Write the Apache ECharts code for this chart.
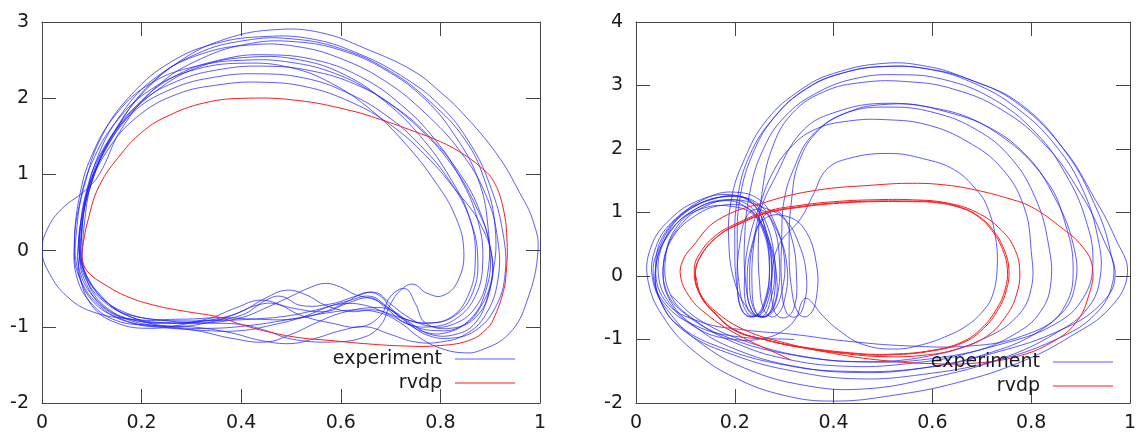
<!DOCTYPE html>
<html>
<head>
<meta charset="utf-8">
<script src="https://cdn.jsdelivr.net/npm/echarts@6/dist/echarts.min.js"></script>
<style>
html,body{margin:0;padding:0;background:#fff;}
#chart{width:1139px;height:434px;}
</style>
</head>
<body>
<div id="chart"></div>
<script>
// ---------- data ----------
const seriesNames = ['experiment', 'rvdp'];
const xTicks = [0, 0.2, 0.4, 0.6, 0.8, 1];
const leftYTicks = [-2, -1, 0, 1, 2, 3];
const rightYTicks = [-2, -1, 0, 1, 2, 3, 4];

// left panel, experiment: successive loops of the trajectory (x, dx/dt)
const leftExperimentLoops = [
  [[0.08,-0.15],[0.085,0.35],[0.1,0.9],[0.14,1.5],[0.2,2.05],[0.28,2.5],[0.37,2.78],[0.47,2.9],[0.56,2.86],[0.65,2.65],[0.745,2.36],[0.8,2.08],[0.845,1.8],[0.913,1.27],[0.96,0.75],[0.986,0.39],[0.996,0.0],[0.974,-0.66],[0.938,-1.09],[0.88,-1.31],[0.843,-1.34],[0.8,-1.28],[0.76,-1.15],[0.72,-0.95],[0.68,-0.82],[0.63,-0.78],[0.57,-0.82],[0.5,-0.9],[0.42,-0.98],[0.34,-1.02],[0.26,-1.0],[0.19,-0.9],[0.13,-0.68]],
  [[0.1,-0.45],[0.075,-0.05],[0.08,0.45],[0.1,0.95],[0.15,1.6],[0.22,2.2],[0.31,2.58],[0.41,2.76],[0.5,2.78],[0.6,2.65],[0.7,2.35],[0.78,1.95],[0.85,1.45],[0.89,0.9],[0.91,0.3],[0.905,-0.3],[0.88,-0.75],[0.84,-1.0],[0.79,-1.05],[0.74,-0.98],[0.7,-0.85],[0.65,-0.72],[0.6,-0.7],[0.55,-0.78],[0.49,-0.86],[0.42,-0.9],[0.34,-0.92],[0.26,-0.92],[0.18,-0.9],[0.1,-0.8],[0.05,-0.6],[0.015,-0.3],[0.0,0.0],[0.012,0.3],[0.04,0.55],[0.085,0.78],[0.115,1.0]],
  [[0.16,1.6],[0.23,2.15],[0.32,2.52],[0.42,2.72],[0.51,2.74],[0.6,2.63],[0.69,2.37],[0.77,1.98],[0.83,1.5],[0.875,0.95],[0.895,0.35],[0.895,-0.3],[0.87,-0.75],[0.82,-0.98],[0.77,-0.98],[0.73,-0.85],[0.7,-0.7],[0.67,-0.55],[0.63,-0.6],[0.58,-0.7],[0.52,-0.72],[0.48,-0.6],[0.45,-0.65],[0.4,-0.85],[0.33,-0.92],[0.25,-0.95],[0.17,-0.85],[0.12,-0.6],[0.085,-0.25]],
  [[0.08,0.25],[0.095,0.8],[0.13,1.35],[0.19,1.9],[0.27,2.3],[0.37,2.52],[0.45,2.57],[0.55,2.5],[0.64,2.28],[0.72,1.92],[0.79,1.45],[0.84,0.95],[0.875,0.4],[0.885,-0.15],[0.87,-0.6],[0.83,-0.9],[0.78,-1.0],[0.73,-0.95],[0.69,-0.75],[0.66,-0.62],[0.61,-0.7],[0.57,-0.8],[0.5,-0.75],[0.44,-0.65],[0.39,-0.75],[0.33,-0.9],[0.26,-0.95],[0.19,-0.92],[0.13,-0.75],[0.09,-0.4]],
  [[0.075,0.0],[0.085,0.6],[0.11,1.1],[0.16,1.65],[0.23,2.1],[0.32,2.42],[0.42,2.54],[0.52,2.5],[0.61,2.3],[0.69,1.95],[0.76,1.5],[0.82,0.95],[0.86,0.4],[0.87,-0.15],[0.855,-0.6],[0.82,-0.88],[0.77,-0.95],[0.72,-0.88],[0.67,-0.78],[0.62,-0.8],[0.57,-0.72],[0.53,-0.58],[0.49,-0.52],[0.45,-0.62],[0.4,-0.8],[0.33,-0.95],[0.25,-1.0],[0.18,-0.95],[0.12,-0.75],[0.075,-0.35]],
  [[0.065,0.05],[0.075,0.6],[0.1,1.15],[0.15,1.7],[0.22,2.12],[0.31,2.38],[0.41,2.46],[0.5,2.4],[0.58,2.2],[0.66,1.85],[0.73,1.4],[0.79,0.9],[0.83,0.45],[0.847,0.0],[0.835,-0.4],[0.805,-0.59],[0.773,-0.56],[0.745,-0.44],[0.72,-0.52],[0.7,-0.7],[0.68,-0.98],[0.645,-1.14],[0.58,-1.2],[0.5,-1.16],[0.45,-1.05],[0.4,-0.97],[0.33,-0.95],[0.25,-0.92],[0.17,-0.82],[0.11,-0.55],[0.08,-0.15]],
  [[0.08,0.3],[0.095,0.85],[0.13,1.4],[0.19,1.9],[0.27,2.22],[0.36,2.38],[0.45,2.42],[0.54,2.36],[0.63,2.18],[0.71,1.88],[0.78,1.48],[0.84,1.0],[0.88,0.5],[0.9,-0.05],[0.89,-0.55],[0.86,-0.9],[0.81,-1.08],[0.76,-1.05],[0.72,-0.88],[0.69,-0.72],[0.66,-0.6],[0.62,-0.65],[0.57,-0.75],[0.52,-0.88],[0.46,-0.98],[0.4,-1.05],[0.33,-1.05],[0.25,-1.0],[0.17,-0.9],[0.11,-0.65],[0.075,-0.25]],
  [[0.075,0.2],[0.09,0.8],[0.12,1.3],[0.18,1.8],[0.26,2.12],[0.35,2.28],[0.44,2.32],[0.53,2.26],[0.61,2.08],[0.69,1.78],[0.76,1.38],[0.82,0.9],[0.86,0.4],[0.875,-0.1],[0.865,-0.55],[0.83,-0.85],[0.78,-0.95],[0.73,-0.9],[0.7,-0.75],[0.68,-0.6],[0.65,-0.55],[0.61,-0.68],[0.56,-0.82],[0.5,-0.9],[0.43,-0.9],[0.36,-0.88],[0.28,-0.9],[0.2,-0.88],[0.13,-0.7],[0.085,-0.3]],
  [[0.08,0.25],[0.095,0.8],[0.13,1.3],[0.19,1.75],[0.27,2.05],[0.36,2.18],[0.44,2.21],[0.53,2.15],[0.62,1.95],[0.7,1.65],[0.77,1.25],[0.83,0.8],[0.88,0.35],[0.905,-0.15],[0.895,-0.6],[0.87,-0.95],[0.83,-1.1],[0.78,-1.1],[0.74,-0.95],[0.7,-0.78],[0.66,-0.75],[0.6,-0.82],[0.55,-0.95],[0.5,-1.1],[0.45,-1.2],[0.38,-1.15],[0.31,-1.05],[0.23,-1.0],[0.16,-0.9],[0.1,-0.65],[0.07,-0.2]],
  [[0.07,0.3],[0.085,0.85],[0.12,1.5],[0.18,2.05],[0.26,2.48],[0.35,2.72],[0.45,2.81],[0.54,2.78],[0.63,2.6],[0.72,2.3],[0.8,1.9],[0.86,1.4],[0.9,0.85],[0.925,0.25],[0.93,-0.3],[0.91,-0.75],[0.87,-1.05],[0.82,-1.15],[0.77,-1.1],[0.73,-0.92],[0.7,-0.78],[0.67,-0.65],[0.63,-0.58],[0.6,-0.48],[0.57,-0.43],[0.54,-0.48],[0.5,-0.6],[0.45,-0.75],[0.4,-0.88],[0.33,-0.95],[0.26,-0.95],[0.19,-0.92],[0.13,-0.78],[0.09,-0.45]],
  [[0.075,-0.05],[0.085,0.55],[0.11,1.2],[0.16,1.8],[0.23,2.28],[0.32,2.58],[0.42,2.7],[0.51,2.68],[0.6,2.52],[0.69,2.22],[0.77,1.8],[0.84,1.3],[0.89,0.75],[0.915,0.15],[0.915,-0.4],[0.89,-0.85],[0.85,-1.1],[0.8,-1.2],[0.75,-1.2],[0.7,-1.1],[0.65,-1.0],[0.6,-1.05],[0.55,-1.15],[0.5,-1.22],[0.44,-1.18],[0.38,-1.08],[0.3,-1.0],[0.22,-0.98],[0.15,-0.92],[0.1,-0.7],[0.07,-0.35]],
  [[0.065,0.1],[0.075,0.7],[0.1,1.25],[0.15,1.8],[0.22,2.2],[0.31,2.42],[0.41,2.5],[0.5,2.47],[0.59,2.32],[0.67,2.05],[0.75,1.65],[0.82,1.15],[0.87,0.6],[0.9,0.05],[0.9,-0.5],[0.87,-0.88],[0.82,-1.02],[0.77,-0.95],[0.75,-0.7],[0.73,-0.5],[0.7,-0.6],[0.68,-0.85],[0.64,-1.0],[0.58,-0.95],[0.52,-0.85],[0.47,-0.7],[0.43,-0.72],[0.38,-0.85],[0.3,-0.95],[0.22,-1.02],[0.15,-0.95],[0.1,-0.72],[0.075,-0.3],[0.075,0.0]]
];

// left panel, rvdp model limit cycle
const leftRvdp = [[0.08,0.0],[0.092,0.39],[0.115,0.85],[0.159,1.27],[0.2,1.55],[0.247,1.75],[0.327,1.94],[0.414,2.0],[0.514,1.97],[0.612,1.85],[0.68,1.72],[0.745,1.57],[0.8,1.43],[0.845,1.27],[0.88,1.1],[0.906,0.92],[0.926,0.56],[0.934,0.1],[0.932,-0.3],[0.927,-0.52],[0.91,-0.85],[0.894,-1.02],[0.857,-1.18],[0.79,-1.25],[0.72,-1.25],[0.646,-1.22],[0.58,-1.18],[0.514,-1.14],[0.45,-1.06],[0.4,-0.97],[0.353,-0.87],[0.29,-0.8],[0.227,-0.72],[0.17,-0.6],[0.127,-0.45],[0.095,-0.3],[0.082,-0.15],[0.08,0.0]];

// right panel, experiment
const rightExperimentLoops = [
  [[0.32,-1.0],[0.2,-0.95],[0.12,-0.78],[0.06,-0.45],[0.035,0.0],[0.05,0.5],[0.09,0.95],[0.15,1.25],[0.2,1.32],[0.25,1.2],[0.28,0.85],[0.3,0.3],[0.295,-0.25],[0.275,-0.58],[0.25,-0.64],[0.225,-0.5],[0.2,-0.1],[0.188,0.5],[0.193,1.2],[0.219,1.83],[0.265,2.46],[0.333,2.93],[0.4,3.19],[0.504,3.35],[0.59,3.3],[0.663,3.13],[0.763,2.77],[0.863,2.03],[0.93,1.2],[0.97,0.6],[0.995,0.05],[0.96,-0.5],[0.88,-0.95],[0.78,-1.35],[0.65,-1.68],[0.52,-1.88],[0.4,-1.97],[0.3,-1.88],[0.2,-1.6],[0.12,-1.2]],
  [[0.06,-0.7],[0.025,-0.1],[0.03,0.45],[0.07,0.9],[0.13,1.2],[0.19,1.28],[0.235,1.15],[0.26,0.8],[0.275,0.2],[0.265,-0.35],[0.245,-0.62],[0.22,-0.6],[0.205,-0.2],[0.2,0.5],[0.205,1.2],[0.23,1.9],[0.28,2.5],[0.345,2.95],[0.42,3.2],[0.51,3.3],[0.6,3.25],[0.68,3.08],[0.78,2.7],[0.87,1.95],[0.93,1.1],[0.96,0.4],[0.965,-0.1],[0.93,-0.6],[0.85,-1.0],[0.72,-1.35],[0.58,-1.55],[0.45,-1.62],[0.32,-1.5],[0.2,-1.25],[0.1,-0.88]],
  [[0.05,-0.4],[0.04,0.1],[0.06,0.6],[0.11,1.0],[0.17,1.18],[0.22,1.1],[0.255,0.75],[0.27,0.15],[0.26,-0.4],[0.24,-0.63],[0.215,-0.55],[0.205,-0.1],[0.21,0.5],[0.225,0.95],[0.25,1.05],[0.275,0.85],[0.29,0.3],[0.285,-0.35],[0.265,-0.63],[0.245,-0.6],[0.235,-0.2],[0.24,0.6],[0.255,1.1],[0.279,1.51],[0.333,2.25],[0.4,2.57],[0.512,2.72],[0.631,2.58],[0.731,2.25],[0.83,1.51],[0.87,0.8],[0.885,0.1],[0.87,-0.45],[0.82,-0.85],[0.72,-1.2],[0.58,-1.45],[0.45,-1.52],[0.32,-1.42],[0.2,-1.15],[0.12,-0.8]],
  [[0.07,-0.4],[0.055,0.05],[0.07,0.55],[0.12,0.95],[0.18,1.12],[0.23,1.05],[0.26,0.7],[0.28,0.1],[0.27,-0.45],[0.255,-0.64],[0.235,-0.55],[0.222,-0.1],[0.22,0.6],[0.23,1.3],[0.255,1.95],[0.3,2.5],[0.37,2.9],[0.45,3.12],[0.53,3.17],[0.62,3.1],[0.72,2.8],[0.81,2.25],[0.87,1.6],[0.91,0.9],[0.925,0.2],[0.905,-0.35],[0.85,-0.75],[0.75,-1.05],[0.6,-1.3],[0.45,-1.35],[0.3,-1.22],[0.18,-0.95],[0.1,-0.6]],
  [[0.06,-0.2],[0.06,0.35],[0.09,0.8],[0.14,1.1],[0.2,1.2],[0.25,1.1],[0.3,0.9],[0.33,0.5],[0.345,0.0],[0.34,-0.45],[0.325,-0.64],[0.305,-0.58],[0.295,-0.15],[0.295,0.6],[0.3,1.2],[0.32,1.7],[0.355,2.2],[0.42,2.55],[0.5,2.7],[0.6,2.65],[0.7,2.4],[0.79,1.9],[0.85,1.2],[0.885,0.5],[0.89,-0.1],[0.86,-0.6],[0.78,-0.95],[0.68,-1.1],[0.55,-1.1],[0.42,-1.02],[0.32,-0.92],[0.22,-0.85],[0.13,-0.72]],
  [[0.06,-0.4],[0.04,0.2],[0.065,0.75],[0.12,1.1],[0.18,1.25],[0.23,1.2],[0.26,0.9],[0.28,0.3],[0.28,-0.3],[0.265,-0.62],[0.24,-0.55],[0.23,0.0],[0.24,0.6],[0.26,0.9],[0.3,0.95],[0.34,0.75],[0.365,0.2],[0.365,-0.35],[0.35,-0.62],[0.33,-0.6],[0.315,-0.2],[0.31,0.5],[0.315,1.2],[0.33,1.8],[0.37,2.3],[0.43,2.58],[0.51,2.66],[0.6,2.58],[0.69,2.3],[0.76,1.85],[0.81,1.2],[0.835,0.5],[0.84,-0.1],[0.82,-0.55],[0.77,-0.9],[0.68,-1.2],[0.55,-1.38],[0.42,-1.42],[0.3,-1.3],[0.2,-1.05],[0.12,-0.7]],
  [[0.07,-0.3],[0.06,0.3],[0.085,0.8],[0.13,1.05],[0.19,1.1],[0.24,0.95],[0.27,0.55],[0.285,-0.05],[0.28,-0.45],[0.26,-0.64],[0.235,-0.55],[0.225,-0.1],[0.235,0.5],[0.26,0.95],[0.29,1.0],[0.315,0.6],[0.325,0.0],[0.32,-0.5],[0.3,-0.66],[0.28,-0.55],[0.275,0.0],[0.29,0.5],[0.333,0.9],[0.36,1.3],[0.385,1.67],[0.43,1.85],[0.512,1.93],[0.58,1.85],[0.645,1.67],[0.69,1.35],[0.711,1.09],[0.728,0.6],[0.731,0.1],[0.722,-0.3],[0.705,-0.53],[0.67,-0.78],[0.625,-0.96],[0.58,-1.08],[0.526,-1.15],[0.46,-1.08],[0.41,-0.85],[0.375,-0.6],[0.36,-0.45],[0.345,-0.35],[0.335,-0.42],[0.325,-0.65],[0.3,-0.85],[0.26,-0.98],[0.2,-1.0],[0.13,-0.85]],
  [[0.07,-0.45],[0.045,0.05],[0.06,0.6],[0.1,1.0],[0.16,1.22],[0.21,1.25],[0.245,1.05],[0.265,0.6],[0.27,0.0],[0.26,-0.45],[0.245,-0.63],[0.225,-0.58],[0.21,-0.2],[0.205,0.5],[0.21,1.2],[0.235,1.9],[0.28,2.5],[0.345,2.95],[0.42,3.2],[0.5,3.3],[0.59,3.26],[0.68,3.05],[0.77,2.65],[0.85,2.05],[0.905,1.35],[0.935,0.6],[0.94,0.0],[0.915,-0.5],[0.85,-0.9],[0.74,-1.3],[0.6,-1.6],[0.46,-1.78],[0.34,-1.72],[0.22,-1.45],[0.13,-1.05]],
  [[0.07,-0.6],[0.035,-0.1],[0.04,0.45],[0.08,0.9],[0.14,1.18],[0.2,1.25],[0.245,1.15],[0.28,0.8],[0.305,0.2],[0.3,-0.4],[0.28,-0.64],[0.26,-0.55],[0.25,-0.1],[0.248,0.6],[0.255,1.3],[0.275,2.0],[0.315,2.55],[0.38,2.9],[0.46,3.05],[0.55,3.06],[0.64,2.95],[0.74,2.62],[0.83,2.05],[0.9,1.3],[0.945,0.6],[0.97,0.0],[0.94,-0.45],[0.86,-0.85],[0.73,-1.2],[0.58,-1.45],[0.42,-1.5],[0.3,-1.4],[0.18,-1.15],[0.09,-0.8]],
  [[0.05,-0.4],[0.04,0.15],[0.07,0.7],[0.12,1.05],[0.18,1.2],[0.23,1.1],[0.26,0.7],[0.275,0.1],[0.265,-0.45],[0.245,-0.63],[0.225,-0.5],[0.22,0.0],[0.23,0.6],[0.25,1.1],[0.275,1.6],[0.31,2.0],[0.36,2.3],[0.43,2.44],[0.51,2.46],[0.59,2.38],[0.67,2.12],[0.74,1.7],[0.785,1.1],[0.8,0.4],[0.8,-0.2],[0.77,-0.65],[0.7,-1.0],[0.6,-1.25],[0.47,-1.35],[0.35,-1.28],[0.23,-1.05],[0.13,-0.7],[0.07,-0.3]]
];

// right panel, rvdp: transient spiralling onto the limit cycle
const rightRvdp = [[0.313,-1.32],[0.2,-0.9],[0.135,-0.55],[0.106,-0.3],[0.09,0.0],[0.095,0.25],[0.114,0.46],[0.165,0.88],[0.265,1.17],[0.365,1.35],[0.478,1.43],[0.56,1.46],[0.63,1.43],[0.69,1.35],[0.75,1.23],[0.8,1.09],[0.858,0.78],[0.904,0.46],[0.924,0.14],[0.918,-0.27],[0.89,-0.74],[0.838,-1.06],[0.77,-1.27],[0.69,-1.37],[0.6,-1.38],[0.5,-1.33],[0.4,-1.22],[0.3,-1.05],[0.22,-0.85],[0.16,-0.55],[0.128,-0.25],[0.118,0.05],[0.125,0.3],[0.16,0.63],[0.21,0.85],[0.265,1.02],[0.33,1.11],[0.4,1.17],[0.48,1.2],[0.56,1.2],[0.63,1.15],[0.69,1.0],[0.74,0.72],[0.768,0.4],[0.777,0.05],[0.77,-0.3],[0.75,-0.62],[0.71,-0.95],[0.65,-1.15],[0.58,-1.25],[0.5,-1.27],[0.42,-1.22],[0.33,-1.12],[0.26,-1.0],[0.2,-0.85],[0.155,-0.55],[0.13,-0.3],[0.12,0.0],[0.13,0.3],[0.165,0.62],[0.21,0.82],[0.265,0.99],[0.33,1.08],[0.4,1.14],[0.48,1.17],[0.56,1.17],[0.6,1.16],[0.65,1.09],[0.69,0.95],[0.72,0.72],[0.742,0.42],[0.752,0.1],[0.747,-0.22],[0.73,-0.52],[0.7,-0.82],[0.66,-1.04],[0.6,-1.17],[0.52,-1.23],[0.45,-1.22],[0.33,-1.11],[0.26,-1.0],[0.2,-0.85],[0.155,-0.55],[0.13,-0.3],[0.12,0.0],[0.13,0.3],[0.166,0.63],[0.21,0.83],[0.265,1.0],[0.33,1.09],[0.4,1.15],[0.48,1.18],[0.56,1.18],[0.6,1.17],[0.65,1.1],[0.69,0.96],[0.722,0.73],[0.745,0.42],[0.755,0.1],[0.75,-0.22],[0.733,-0.53],[0.703,-0.83],[0.662,-1.05],[0.6,-1.18],[0.52,-1.24],[0.45,-1.23],[0.33,-1.12],[0.26,-1.0],[0.2,-0.86],[0.156,-0.56],[0.131,-0.3],[0.121,0.0]];

// ---------- chart ----------
const FONT = '"DejaVu Sans", "Liberation Sans", sans-serif';
const AXIS_COLOR = '#454545';
const LABEL_COLOR = '#1a1a1a';
const BLUE = 'rgba(30,30,255,0.72)';
const RED = '#ff1a1a';
const TENSION = 0.42;

function xAxes(gridIndex) {
  const common = {
    type: 'value', gridIndex, min: xTicks[0], max: xTicks[xTicks.length - 1], interval: 0.2,
    splitLine: { show: false },
    axisLine: { show: true, onZero: false, lineStyle: { color: AXIS_COLOR, width: 1 } },
    axisTick: { show: true, inside: true, length: 14, lineStyle: { color: AXIS_COLOR, width: 1 } }
  };
  return [
    Object.assign({}, common, { position: 'bottom',
      axisLabel: { show: true, color: LABEL_COLOR, fontSize: 19, fontFamily: FONT, margin: 11, showMinLabel: true, showMaxLabel: true } }),
    Object.assign({}, common, { position: 'top', axisLabel: { show: false } })
  ];
}
function yAxes(gridIndex, ticks) {
  const common = {
    type: 'value', gridIndex, min: ticks[0], max: ticks[ticks.length - 1], interval: 1,
    splitLine: { show: false },
    axisLine: { show: true, onZero: false, lineStyle: { color: AXIS_COLOR, width: 1 } },
    axisTick: { show: true, inside: true, length: 14, lineStyle: { color: AXIS_COLOR, width: 1 } }
  };
  return [
    Object.assign({}, common, { position: 'left',
      axisLabel: { show: true, color: LABEL_COLOR, fontSize: 19, fontFamily: FONT, margin: 13, showMinLabel: true, showMaxLabel: true } }),
    Object.assign({}, common, { position: 'right', axisLabel: { show: false } })
  ];
}

function legendFor(right, top) {
  return {
    show: true, orient: 'vertical', align: 'right', right, top,
    padding: 0, itemGap: 2, itemWidth: 60, itemHeight: 1, icon: 'rect',
    selectedMode: false,
    textStyle: { color: LABEL_COLOR, fontSize: 19, fontFamily: FONT, lineHeight: 22, padding: [0, 8, 0, 0] },
    data: seriesNames
  };
}

// Smooth trajectory: each data point starts one cubic segment to the next point;
// positions come from the axes through api.coord.
function curveSeries(name, points, xi, yi, color, z) {
  return {
    name, type: 'custom', coordinateSystem: 'cartesian2d', xAxisIndex: xi, yAxisIndex: yi,
    data: points, encode: { x: 0, y: 1 }, z, clip: true, silent: true,
    itemStyle: { color },
    renderItem: function (params, api) {
      const i = params.dataIndex;
      const n = points.length;
      if (i >= n - 1) return null;
      const P = k => api.coord(points[Math.max(0, Math.min(n - 1, k))]);
      const p0 = P(i - 1), p1 = P(i), p2 = P(i + 1), p3 = P(i + 2);
      const d = (a, b) => Math.hypot(b[0] - a[0], b[1] - a[1]) || 1e-6;
      const d01 = d(p0, p1), d12 = d(p1, p2), d23 = d(p2, p3);
      const r1 = TENSION * d12 / (d01 + d12);
      const r2 = TENSION * d12 / (d12 + d23);
      return {
        type: 'bezierCurve',
        shape: {
          x1: p1[0], y1: p1[1], x2: p2[0], y2: p2[1],
          cpx1: p1[0] + (p2[0] - p0[0]) * r1, cpy1: p1[1] + (p2[1] - p0[1]) * r1,
          cpx2: p2[0] - (p3[0] - p1[0]) * r2, cpy2: p2[1] - (p3[1] - p1[1]) * r2
        },
        style: { fill: null, stroke: color, lineWidth: 1 }
      };
    }
  };
}

const option = {
  animation: false,
  backgroundColor: '#ffffff',
  grid: [
    { left: 42, top: 22, width: 498, height: 381, containLabel: false },
    { left: 636, top: 22, width: 502, height: 381, containLabel: false }
  ],
  xAxis: [...xAxes(0), ...xAxes(1)],
  yAxis: [...yAxes(0, leftYTicks), ...yAxes(1, rightYTicks)],
  legend: [legendFor(1139 - 515, 348), legendFor(1139 - 1113, 351)],
  series: [
    curveSeries(seriesNames[0], leftExperimentLoops.flat(), 0, 0, BLUE, 2),
    curveSeries(seriesNames[1], leftRvdp, 0, 0, RED, 3),
    curveSeries(seriesNames[0], rightExperimentLoops.flat(), 2, 2, BLUE, 2),
    curveSeries(seriesNames[1], rightRvdp, 2, 2, RED, 3)
  ]
};

const chart = echarts.init(document.getElementById('chart'), null, { renderer: 'canvas' });
chart.setOption(option);
</script>
</body>
</html>
